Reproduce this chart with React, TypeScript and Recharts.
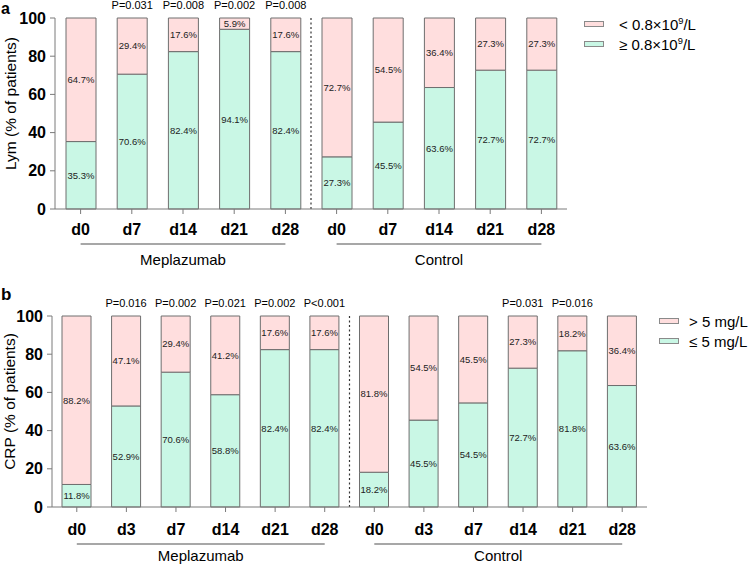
import { BarChart, Bar, XAxis, YAxis, LabelList, ReferenceArea, Legend } from "recharts";

// panel a: lymphocytes
const lymGroups = ["Meplazumab", "Control"];
const lymDays = ["d0", "d7", "d14", "d21", "d28"];
const lymAbove = [35.3, 70.6, 82.4, 94.1, 82.4, 27.3, 45.5, 63.6, 72.7, 72.7];
const lymBelow = [64.7, 29.4, 17.6, 5.9, 17.6, 72.7, 54.5, 36.4, 27.3, 27.3];
const lymP = ["", "P=0.031", "P=0.008", "P=0.002", "P=0.008", "", "", "", "", ""];

// panel b: CRP
const crpGroups = ["Meplazumab", "Control"];
const crpDays = ["d0", "d3", "d7", "d14", "d21", "d28"];
const crpLow = [11.8, 52.9, 70.6, 58.8, 82.4, 82.4, 18.2, 45.5, 54.5, 72.7, 81.8, 63.6];
const crpHigh = [88.2, 47.1, 29.4, 41.2, 17.6, 17.6, 81.8, 54.5, 45.5, 27.3, 18.2, 36.4];
const crpP = ["", "P=0.016", "P=0.002", "P=0.021", "P=0.002", "P<0.001", "", "", "", "P=0.031", "P=0.016", ""];

const yTicks = [0, 20, 40, 60, 80, 100];

const PINK = "#ffdede";
const GREEN = "#c9f7e5";
const EDGE = "#6e6e6e";
const AXIS = "#7a7a7a";
const FONT = "'Liberation Sans', Arial, sans-serif";
const CHART_H = 283;
const X_AXIS_H = 30;

function buildRows(groups: string[], days: string[], good: number[], bad: number[], p: string[]) {
  return groups.flatMap((g, gi) =>
    days.map((d, di) => {
      const i = gi * days.length + di;
      return { key: `${g}|${d}`, good: good[i], bad: bad[i], p: p[i] };
    })
  );
}

const pct = (v: number) => `${v.toFixed(1)}%`;

function withSup(text: string) {
  const parts = text.split("^");
  if (parts.length < 2) return text;
  return (
    <>
      {parts[0]}
      <sup style={{ fontSize: "0.62em" }}>{parts[1].charAt(0)}</sup>
      {parts[1].slice(1)}
    </>
  );
}

interface PanelProps {
  top: number;
  title: string;
  groups: string[];
  days: string[];
  rows: { key: string; good: number; bad: number; p: string }[];
  goodName: string;
  badName: string;
  margin: { top: number; right: number; bottom: number; left: number };
  barSize: number;
  tickMargin: number;
  lineDrop: number;
  groupTextDrop: number;
  legendTop: number;
  legendLeft: number;
  legendGap: number;
  titleX: number;
}

function Panel(props: PanelProps) {
  const { rows, groups, days, margin } = props;
  const firstKey = (g: string) => `${g}|${days[0]}`;
  const lastKey = (g: string) => `${g}|${days[days.length - 1]}`;
  const plotH = CHART_H - margin.top - margin.bottom - X_AXIS_H;
  const titleY = margin.top + plotH / 2 - 10;

  return (
    <div style={{ position: "absolute", left: 0, top: props.top }}>
      <BarChart width={748} height={CHART_H} data={rows} margin={margin}>
        <XAxis
          dataKey="key"
          interval={0}
          tickFormatter={(k: string) => k.split("|")[1]}
          tick={{ fontSize: 16, fontWeight: "bold", fill: "#000", fontFamily: FONT }}
          tickSize={5}
          tickMargin={props.tickMargin}
          axisLine={{ stroke: AXIS }}
          tickLine={{ stroke: AXIS }}
          height={X_AXIS_H}
        />
        <YAxis
          domain={[0, 100]}
          ticks={yTicks}
          interval={0}
          width={45}
          tick={{ fontSize: 16, fontWeight: "bold", fill: "#000", fontFamily: FONT }}
          tickSize={5}
          tickMargin={4}
          axisLine={{ stroke: AXIS }}
          tickLine={{ stroke: AXIS }}
          label={{
            content: () => (
              <text
                x={props.titleX}
                y={titleY}
                transform={`rotate(-90, ${props.titleX}, ${titleY})`}
                textAnchor="middle"
                dominantBaseline="central"
                fontSize={15.5}
                fontFamily={FONT}
                fill="#000"
              >
                {props.title}
              </text>
            ),
          }}
        />
        <Bar dataKey="good" name={props.goodName} stackId="s" fill={GREEN} stroke={EDGE} strokeWidth={1} barSize={props.barSize} isAnimationActive={false}>
          <LabelList dataKey="good" position="center" formatter={(v: any) => pct(Number(v))} fontSize={9.5} fill="#222" fontFamily={FONT} />
        </Bar>
        <Bar dataKey="bad" name={props.badName} stackId="s" fill={PINK} stroke={EDGE} strokeWidth={1} barSize={props.barSize} isAnimationActive={false}>
          <LabelList dataKey="bad" position="center" formatter={(v: any) => pct(Number(v))} fontSize={9.5} fill="#222" fontFamily={FONT} />
          <LabelList dataKey="p" position="top" offset={9} fontSize={11} fill="#000" fontFamily={FONT} />
        </Bar>
        <ReferenceArea
          x1={lastKey(groups[0])}
          x2={firstKey(groups[1])}
          y1={0}
          y2={100}
          ifOverflow="visible"
          shape={(sp: any) => (
            <line
              x1={sp.x + sp.width / 2}
              x2={sp.x + sp.width / 2}
              y1={sp.y}
              y2={sp.y + sp.height}
              stroke="#333"
              strokeWidth={1.2}
              strokeDasharray="2 2.5"
            />
          )}
        />
        {groups.map((g) => (
          <ReferenceArea
            key={g}
            x1={firstKey(g)}
            x2={lastKey(g)}
            y1={0}
            y2={100}
            ifOverflow="visible"
            shape={(sp: any) => {
              const half = sp.width / (2 * days.length);
              const bottom = sp.y + sp.height;
              return (
                <g>
                  <line x1={sp.x + half} x2={sp.x + sp.width - half} y1={bottom + props.lineDrop} y2={bottom + props.lineDrop} stroke="#8a8a8a" strokeWidth={1.5} />
                  <text x={sp.x + sp.width / 2} y={bottom + props.groupTextDrop} textAnchor="middle" fontSize={15} fontFamily={FONT} fill="#000">
                    {g}
                  </text>
                </g>
              );
            }}
          />
        ))}
        <Legend
          layout="vertical"
          align="center"
          verticalAlign="middle"
          wrapperStyle={{ top: props.legendTop, left: props.legendLeft, width: 150, margin: 0 }}
          content={(lp: any) => {
            const items = lp.payload || [];
            return (
              <div style={{ fontFamily: FONT, fontSize: 15, color: "#000" }}>
                {items.map((it: any) => (
                  <div key={it.value} style={{ display: "flex", alignItems: "center", height: 20 }}>
                    <span
                      style={{
                        display: "inline-block",
                        width: 20,
                        height: 6,
                        boxSizing: "border-box",
                        background: it.color,
                        border: "1px solid #8a8a8a",
                        marginRight: props.legendGap,
                      }}
                    />
                    <span style={{ whiteSpace: "nowrap" }}>{withSup(it.value)}</span>
                  </div>
                ))}
              </div>
            );
          }}
        />
      </BarChart>
    </div>
  );
}

export default function App() {
  const lymRows = buildRows(lymGroups, lymDays, lymAbove, lymBelow, lymP);
  const crpRows = buildRows(crpGroups, crpDays, crpLow, crpHigh, crpP);

  return (
    <div style={{ position: "absolute", left: 0, top: 0, width: 748, height: 566, background: "#fff", fontFamily: FONT }}>
      <Panel
        top={0}
        title="Lym (% of patients)"
        groups={lymGroups}
        days={lymDays}
        rows={lymRows}
        goodName="≥ 0.8×10^9/L"
        badName="< 0.8×10^9/L"
        margin={{ top: 18, right: 181, bottom: 44, left: 10 }}
        barSize={30}
        tickMargin={10}
        lineDrop={35}
        groupTextDrop={56}
        legendTop={14}
        legendLeft={584}
        legendGap={15}
        titleX={10}
      />
      <Panel
        top={283}
        title="CRP (% of patients)"
        groups={crpGroups}
        days={crpDays}
        rows={crpRows}
        goodName="≤ 5 mg/L"
        badName="> 5 mg/L"
        margin={{ top: 33, right: 101, bottom: 29, left: 7 }}
        barSize={29}
        tickMargin={12}
        lineDrop={37}
        groupTextDrop={54}
        legendTop={28}
        legendLeft={659}
        legendGap={10}
        titleX={9}
      />
      <svg width={748} height={566} style={{ position: "absolute", left: 0, top: 0, pointerEvents: "none" }}>
        <text x={1} y={14} fontSize={16} fontWeight="bold" fontFamily={FONT}>a</text>
        <text x={1} y={300} fontSize={17} fontWeight="bold" fontFamily={FONT}>b</text>
      </svg>
    </div>
  );
}
